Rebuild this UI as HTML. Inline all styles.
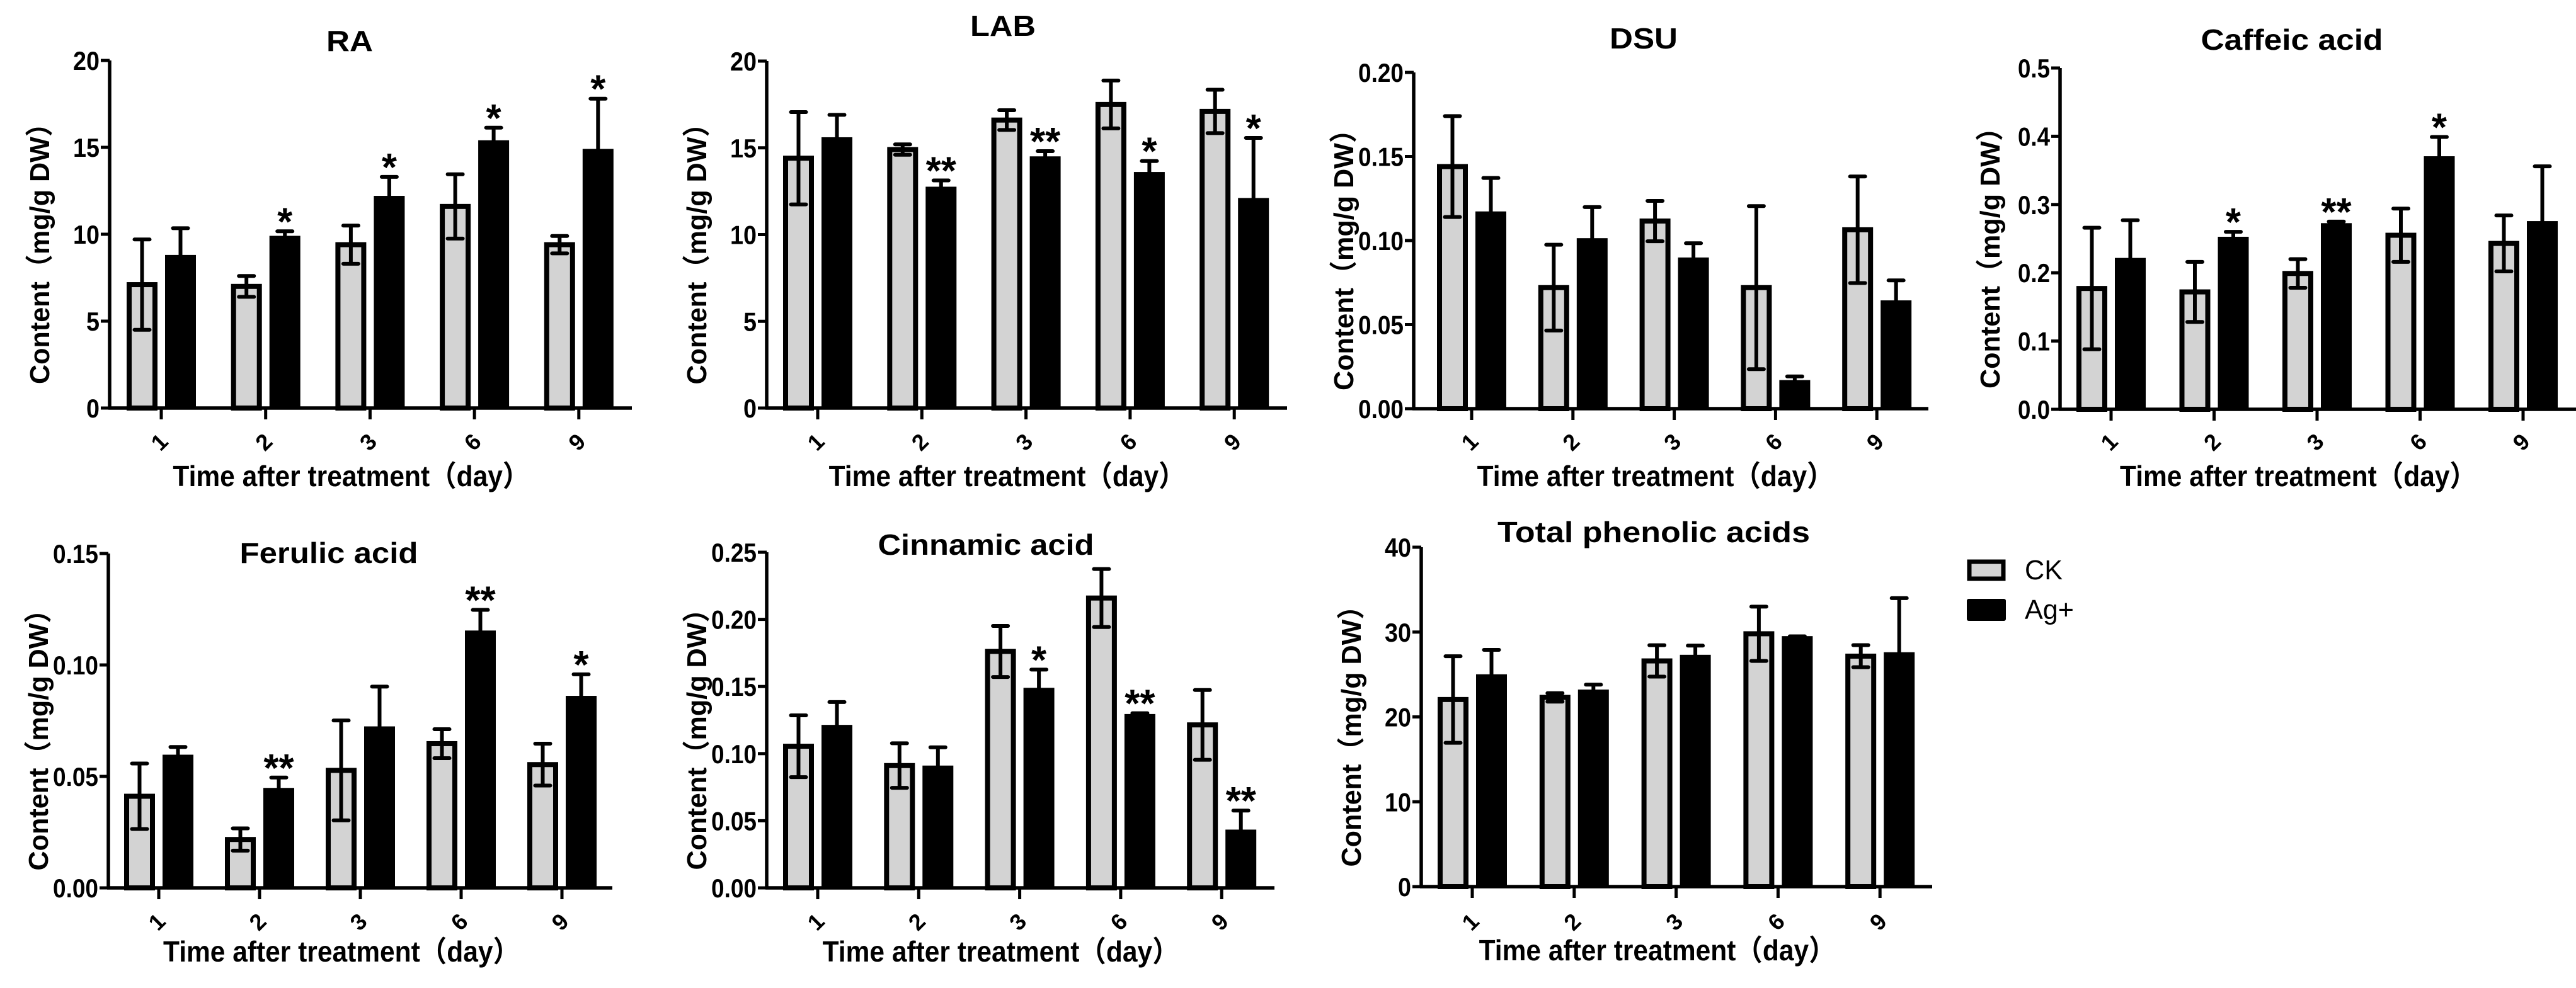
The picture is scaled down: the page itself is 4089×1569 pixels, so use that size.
<!DOCTYPE html>
<html><head><meta charset="utf-8">
<style>
html,body{margin:0;padding:0;background:#fff;}
svg{display:block;}
text{font-family:"Liberation Sans","Noto Sans CJK SC",sans-serif;font-weight:bold;fill:#000;}
</style></head>
<body>
<svg id="fig" width="4089" height="1569" viewBox="0 0 4089 1569" xmlns="http://www.w3.org/2000/svg"></svg>
<script>
const days = ['1','2','3','6','9'];

const raCK = [7.1, 7.0, 9.4, 11.6, 9.4];
const raCKsd = [2.6, 0.6, 1.1, 1.85, 0.5];
const raAg = [8.7, 9.8, 12.1, 15.3, 14.8];
const raAgsd = [1.65, 0.37, 1.2, 0.83, 3.0];
const raStars = ['', '*', '*', '*', '*'];
const raTicks = ['0','5','10','15','20'];

const labCK = [14.4, 14.9, 16.6, 17.5, 17.1];
const labCKsd = [2.66, 0.3, 0.57, 1.38, 1.25];
const labAg = [15.5, 12.65, 14.4, 13.5, 12.0];
const labAgsd = [1.4, 0.47, 0.41, 0.74, 3.57];
const labStars = ['', '**', '**', '*', '*'];
const labTicks = ['0','5','10','15','20'];

const dsuCK = [0.144, 0.072, 0.1116, 0.072, 0.1064];
const dsuCKsd = [0.030, 0.0255, 0.012, 0.0485, 0.0317];
const dsuAg = [0.1162, 0.1003, 0.0888, 0.0159, 0.0633];
const dsuAgsd = [0.021, 0.0196, 0.0096, 0.0033, 0.013];
const dsuStars = ['', '', '', '', ''];
const dsuTicks = ['0.00','0.05','0.10','0.15','0.20'];

const cafCK = [0.177, 0.172, 0.199, 0.255, 0.243];
const cafCKsd = [0.089, 0.044, 0.021, 0.039, 0.041];
const cafAg = [0.219, 0.250, 0.270, 0.368, 0.273];
const cafAgsd = [0.058, 0.010, 0.005, 0.031, 0.083];
const cafStars = ['', '*', '**', '*', ''];
const cafTicks = ['0.0','0.1','0.2','0.3','0.4','0.5'];

const ferCK = [0.0411, 0.0217, 0.0527, 0.0647, 0.0553];
const ferCKsd = [0.0147, 0.005, 0.0224, 0.0065, 0.0094];
const ferAg = [0.0589, 0.044, 0.0716, 0.1146, 0.0853];
const ferAgsd = [0.0043, 0.0055, 0.0187, 0.0101, 0.0105];
const ferStars = ['', '**', '', '**', '*'];
const ferTicks = ['0.00','0.05','0.10','0.15'];

const cinCK = [0.1055, 0.0911, 0.1761, 0.2159, 0.1214];
const cinCKsd = [0.023, 0.0166, 0.019, 0.0216, 0.026];
const cinAg = [0.120, 0.0897, 0.1476, 0.1281, 0.042];
const cinAgsd = [0.0184, 0.015, 0.015, 0.002, 0.0156];
const cinStars = ['', '', '*', '**', '**'];
const cinTicks = ['0.00','0.05','0.10','0.15','0.20','0.25'];

const totCK = [22.05, 22.3, 26.6, 29.8, 27.16];
const totCKsd = [5.1, 0.5, 1.85, 3.2, 1.3];
const totAg = [24.8, 23.0, 27.1, 29.3, 27.4];
const totAgsd = [3.1, 0.8, 1.3, 0.2, 6.6];
const totStars = ['', '', '', '', ''];
const totTicks = ['0','10','20','30','40'];

const NS = 'http://www.w3.org/2000/svg';
const fig = document.getElementById('fig');
function mk(tag, attrs, parent) {
  const e = document.createElementNS(NS, tag);
  for (const k in attrs) e.setAttribute(k, attrs[k]);
  (parent || fig).appendChild(e);
  return e;
}

function panel(key, title, ck, cksd, ag, agsd, stars, ticks, L) {
  const g = mk('g', {});
  
  
  const ymax = parseFloat(ticks[ticks.length - 1]);
  const yS = v => L.y0 - (v / ymax) * (L.y0 - L.yTop);
  const xS = i => L.t0 + i * L.step;
  const bw = 49, off = 30.5;

  days.forEach((d, i) => {
    const cx = xS(i) - off, ax = xS(i) + off;
    const ckBar = mk('rect', {x: cx - bw / 2 + 4, y: yS(ck[i]), width: bw - 8, height: L.y0 - yS(ck[i]), fill: '#d3d3d3', stroke: '#000', 'stroke-width': 8}, g);
    
    
    const e1 = mk('path', {d: `M${cx},${yS(ck[i] - cksd[i])}V${yS(ck[i] + cksd[i])}M${cx - 12},${yS(ck[i] + cksd[i])}h24M${cx - 12},${yS(ck[i] - cksd[i])}h24`, stroke: '#000', 'stroke-width': 6, 'stroke-linecap': 'round', fill: 'none'}, g);
    
    
    const agBar = mk('rect', {x: ax - bw / 2, y: yS(ag[i]) - 3, width: bw, height: L.y0 - yS(ag[i]) + 3, fill: '#000'}, g);
    
    
    const e2 = mk('path', {d: `M${ax},${yS(ag[i])}V${yS(ag[i] + agsd[i])}M${ax - 12},${yS(ag[i] + agsd[i])}h24`, stroke: '#000', 'stroke-width': 6, 'stroke-linecap': 'round', fill: 'none'}, g);
    
    
    if (stars[i]) {
      const s = mk('text', {x: ax, y: yS(ag[i] + agsd[i]) + 6, 'text-anchor': 'middle', 'font-size': 62}, g);
      s.textContent = stars[i];
      
      
    }
    const tl = mk('text', {x: 0, y: 0, 'text-anchor': 'middle', 'dominant-baseline': 'central', 'font-size': 36, transform: `translate(${xS(i) - 3},${L.xl}) rotate(-45)`}, g);
    tl.textContent = d;
    
    
    mk('line', {x1: xS(i), x2: xS(i), y1: L.y0, y2: L.y0 + 18, stroke: '#000', 'stroke-width': 5}, g);
  });

  const ya = mk('path', {d: `M${L.ax},${L.yTop}V${L.y0 + 2}M${L.ax - 2},${L.y0}H${L.xEnd}`, stroke: '#000', 'stroke-width': 5.5, fill: 'none'}, g);
  
  
  ticks.forEach(t => {
    const y = yS(parseFloat(t));
    mk('line', {x1: L.ax - 14, x2: L.ax, y1: y, y2: y, stroke: '#000', 'stroke-width': 5}, g);
    const nDig = t.replace('.', '').length, nDot = t.length - nDig;
    const tt = mk('text', {x: L.ax - 16, y: y + 15, 'text-anchor': 'end', 'font-size': 42, textLength: nDig * 21 + nDot * 9, lengthAdjust: 'spacingAndGlyphs'}, g);
    tt.textContent = t;
    
    
  });

  const tt = mk('text', {x: L.tx, y: L.ty, 'text-anchor': 'middle', 'font-size': 46, textLength: L.tw, lengthAdjust: 'spacingAndGlyphs'}, g);
  tt.textContent = title;
  
  

  const xc = (xS(0) + xS(4)) / 2 - 30;
  const xt = mk('text', {x: xc, y: L.xt, 'text-anchor': 'middle', 'font-size': 46, textLength: 566, lengthAdjust: 'spacingAndGlyphs'}, g);
  xt.textContent = 'Time after treatment（day）';
  
  

  const ymid = (L.yTop + L.y0) / 2 + 20;
  const yt = mk('text', {x: 0, y: 0, 'text-anchor': 'middle', 'font-size': 44, textLength: 436, lengthAdjust: 'spacingAndGlyphs', transform: `translate(${L.ax - 96},${ymid}) rotate(-90)`}, g);
  yt.textContent = 'Content（mg/g DW）';
  
  
}

panel('ra', 'RA', raCK, raCKsd, raAg, raAgsd, raStars, raTicks,
  {ax: 174, yTop: 96, y0: 648, xEnd: 1003, t0: 256, step: 165.7, tx: 555, ty: 81, tw: 74, xl: 702, xt: 772});
panel('lab', 'LAB', labCK, labCKsd, labAg, labAgsd, labStars, labTicks,
  {ax: 1217, yTop: 97, y0: 648, xEnd: 2043, t0: 1298, step: 165.3, tx: 1592, ty: 57, tw: 104, xl: 702, xt: 772});
panel('dsu', 'DSU', dsuCK, dsuCKsd, dsuAg, dsuAgsd, dsuStars, dsuTicks,
  {ax: 2244, yTop: 115, y0: 649, xEnd: 3061, t0: 2336, step: 160.8, tx: 2609, ty: 77, tw: 108, xl: 702, xt: 772});
panel('caffeic', 'Caffeic acid', cafCK, cafCKsd, cafAg, cafAgsd, cafStars, cafTicks,
  {ax: 3270, yTop: 108, y0: 650, xEnd: 4089, t0: 3351, step: 163.5, tx: 3638, ty: 79, tw: 289, xl: 702, xt: 772});
panel('ferulic', 'Ferulic acid', ferCK, ferCKsd, ferAg, ferAgsd, ferStars, ferTicks,
  {ax: 172, yTop: 879, y0: 1410, xEnd: 972, t0: 252, step: 160, tx: 522, ty: 894, tw: 283, xl: 1464, xt: 1527});
panel('cinnamic', 'Cinnamic acid', cinCK, cinCKsd, cinAg, cinAgsd, cinStars, cinTicks,
  {ax: 1217, yTop: 877, y0: 1410, xEnd: 2023, t0: 1298, step: 160.3, tx: 1565, ty: 881, tw: 343, xl: 1464, xt: 1527});
panel('total', 'Total phenolic acids', totCK, totCKsd, totAg, totAgsd, totStars, totTicks,
  {ax: 2256, yTop: 869, y0: 1408, xEnd: 3067, t0: 2337, step: 161.8, tx: 2625, ty: 861, tw: 496, xl: 1464, xt: 1525});

const lg = mk('g', {});


const r1 = mk('rect', {x: 3126, y: 892, width: 54, height: 27, fill: '#d3d3d3', stroke: '#000', 'stroke-width': 7}, lg);


const t1 = mk('text', {x: 3214, y: 920, 'font-size': 44, style: 'font-weight:normal', textLength: 60, lengthAdjust: 'spacingAndGlyphs'}, lg);
t1.textContent = 'CK';


const r2 = mk('rect', {x: 3122, y: 951, width: 62, height: 35, fill: '#000', rx: 3}, lg);


const t2 = mk('text', {x: 3214, y: 983, 'font-size': 44, style: 'font-weight:normal', textLength: 78, lengthAdjust: 'spacingAndGlyphs'}, lg);
t2.textContent = 'Ag+';


</script>
</body></html>
